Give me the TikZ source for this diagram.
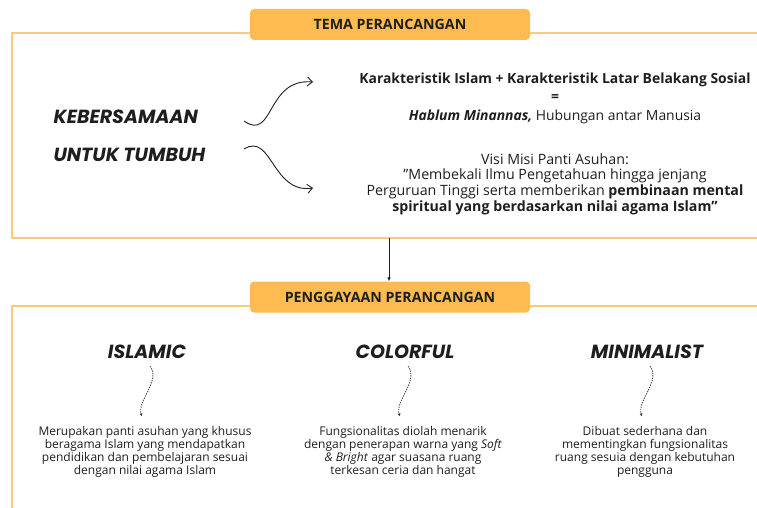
\documentclass[tikz,border=0pt]{standalone}
\usepackage{fontspec}
\setmainfont{Open Sans}
\newfontfamily\titlefont{Poppins}
\usetikzlibrary{arrows.meta,positioning}
\definecolor{tabfill}{HTML}{FDBB52}
\definecolor{frameline}{HTML}{F9CB7E}
\definecolor{ink}{HTML}{1E1E1E}

\tikzset{
  tab/.style={fill=tabfill, rounded corners=4pt, minimum width=280pt, minimum height=31pt,
    font=\bfseries\fontsize{14.2}{15}\selectfont, text=ink},
  theme/.style={anchor=west, font=\titlefont\bfseries\itshape\fontsize{19}{20}\selectfont, text=ink},
  style title/.style={font=\titlefont\bfseries\itshape\fontsize{19}{20}\selectfont, text=ink},
  body/.style={align=center, text=ink, font=\fontsize{12}{13}\selectfont, inner sep=0pt},
  swirl/.style={-{Straight Barb[length=5pt,width=9pt]}, line width=0.9pt, ink},
  hint/.style={-{Latex[length=3pt,width=3pt]}, dash pattern=on 1.2pt off 1.2pt, line width=0.9pt, gray!45!black}
}

\begin{document}
\begin{tikzpicture}[x=1pt,y=-1pt]
  \useasboundingbox (0,0) rectangle (757,508);
  % frames
  \draw[frameline, line width=1.3pt] (757,33) -- (12,33) -- (12,238) -- (757,238);
  \draw[frameline, line width=1.3pt] (757,306) -- (12,306) -- (12,508);
  % headers
  \node[tab] (tema) at (390,24.5) {TEMA PERANCANGAN};
  \node[tab] (gaya) at (390,297) {PENGGAYAAN PERANCANGAN};
  \coordinate (temaout) at (389,238);
  \draw[-{Latex[length=4pt,width=3.5pt]}, line width=0.8pt, ink] (temaout) -- (gaya.north -| temaout);
  % theme
  \node[theme] (kebersamaan) at (50,117) {KEBERSAMAAN};
  \node[theme] (tumbuh) at (50,155) {UNTUK TUMBUH};
  \node[body, font=\fontsize{13.9}{18.5}\selectfont] (karakter) at (555,98)
    {\textbf{Karakteristik Islam + Karakteristik Latar Belakang Sosial}\\
     \textbf{=}\\
     \textbf{\textit{Hablum Minannas,}} Hubungan antar Manusia};
  \node[body, font=\fontsize{14.2}{15.6}\selectfont] (visi) at (555,184)
    {Visi Misi Panti Asuhan:\\
     \char"22 Membekali Ilmu Pengetahuan hingga jenjang\\
     Perguruan Tinggi serta memberikan \textbf{pembinaan mental}\\
     \textbf{spiritual yang berdasarkan nilai agama Islam\char"22}};
  \coordinate (s1) at (244,121);
  \coordinate (e1) at (313,82);
  \coordinate (s2) at (244,149);
  \coordinate (e2) at (313,188);
  \draw[swirl] (s1) .. controls (274,142) and (266,78) .. (e1);
  \draw[swirl] (s2) .. controls (272,132) and (272,194) .. (e2);
  % styles
  \foreach \name/\x/\title/\desc in {
    islamic/147/ISLAMIC/{Merupakan panti asuhan yang khusus\\beragama Islam yang mendapatkan\\pendidikan dan pembelajaran sesuai\\dengan nilai agama Islam},
    colorful/405/COLORFUL/{Fungsionalitas diolah menarik\\dengan penerapan warna yang \textit{Soft}\\\textit{\&~Bright} agar suasana ruang\\terkesan ceria dan hangat},
    minimalist/647/MINIMALIST/{Dibuat sederhana dan\\mementingkan fungsionalitas\\ruang sesuia dengan kebutuhan\\pengguna}}{
    \node[style title] (\name) at (\x,352) {\title};
    \node[body, anchor=north] (\name txt) at (\x-2,426) {\desc};
    \draw[hint, shorten <=5pt, shorten >=10pt] (\name.south) .. controls +(14,18) and +(-8,-25) .. (\name txt.north);
  }
\end{tikzpicture}
\end{document}
